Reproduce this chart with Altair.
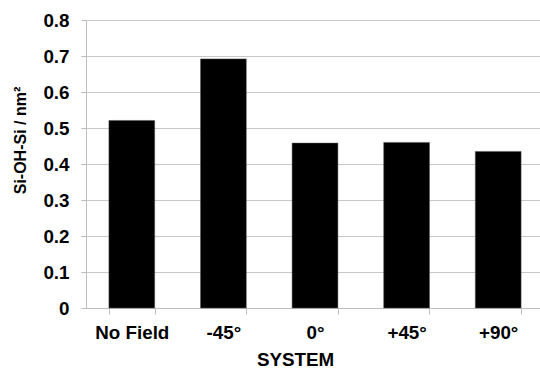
import altair as alt
import pandas as pd

# Silanol bridge density per field orientation
systems = ["No Field", "-45°", "0°", "+45°", "+90°"]
density = [0.521, 0.692, 0.458, 0.460, 0.435]
y_ticks = [0, 0.1, 0.2, 0.3, 0.4, 0.5, 0.6, 0.7, 0.8]

df = pd.DataFrame({"system": systems, "density": density})

FONT = "Liberation Sans"

bars = alt.Chart(df).mark_bar(color="black", stroke="#555555", strokeWidth=0.5).encode(
    x=alt.X(
        "system:N",
        sort=systems,
        scale=alt.Scale(range=[0, 458], paddingInner=0.5, paddingOuter=0.25),
        axis=alt.Axis(
            title="SYSTEM",
            labelAngle=0,
            labelFont=FONT,
            labelFontSize=18.8,
            labelFontWeight="bold",
            labelColor="black",
            labelPadding=9,
            tickBand="extent",
            tickSize=6,
            tickColor="#bdbdbd",
            domainColor="#bdbdbd",
            grid=False,
            titleFont=FONT,
            titleFontSize=18.8,
            titleFontWeight="bold",
            titleColor="black",
            titleX=209,
            titleY=42,
        ),
    ),
    y=alt.Y(
        "density:Q",
        scale=alt.Scale(domain=[0, 0.8], nice=False),
        axis=alt.Axis(
            title="Si-OH-Si / nm²",
            values=y_ticks,
            format=".1~f",
            labelFont=FONT,
            labelFontSize=18.8,
            labelFontWeight="bold",
            labelColor="black",
            labelPadding=12,
            tickSize=5,
            tickColor="#bdbdbd",
            domainColor="#bdbdbd",
            gridColor="#c8c8c8",
            gridWidth=1.2,
            titleFont=FONT,
            titleFontSize=16,
            titleFontWeight="bold",
            titleColor="black",
            titleX=-58,
            titleY=120,
        ),
    ),
)

chart = bars.properties(
    width=454,
    height=288,
    padding={"left": 86, "top": 20, "right": 0, "bottom": 60},
    autosize=alt.AutoSizeParams(type="none"),
    background="white",
).configure_view(stroke=None)

chart.save("out.html", embed_options={"renderer": "svg", "actions": False})
